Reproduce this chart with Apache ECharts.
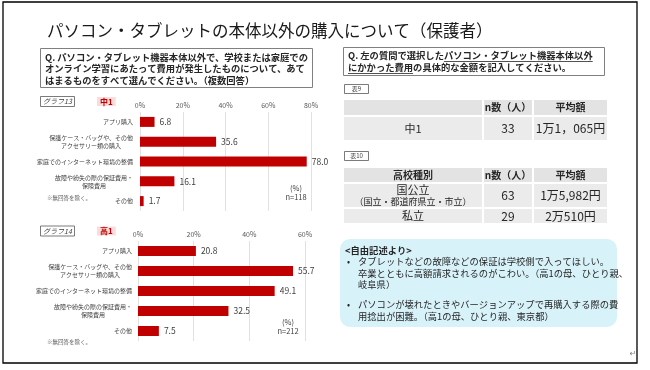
<!DOCTYPE html>
<html><head><meta charset="utf-8">
<script src="https://cdn.jsdelivr.net/npm/echarts@6/dist/echarts.min.js"></script>
<style>html,body{margin:0;padding:0;background:#fff}#c{width:650px;height:370px}</style>
</head><body><div id="c"></div>
<script>
const F = '"Noto Sans CJK JP", "Noto Sans CJK SC", sans-serif';

// ---- data ----
const categories = ['アプリ購入', '保護ケース・バッグや、その他\nアクセサリー類の購入', '家庭でのインターネット環境の整備', '故障や紛失の際の保証費用・\n保険費用', 'その他'];
const graph13Values = [6.8, 35.6, 78.0, 16.1, 1.7];   // 中1, n=118
const graph14Values = [20.8, 55.7, 49.1, 32.5, 7.5];  // 高1, n=212
const graph13Axis = { min: 0, max: 80, interval: 20 };
const graph14Axis = { min: 0, max: 60, interval: 20 };
const table9Header = ['', 'n数（人）', '平均額'];
const table9Rows = [['中1', '33', '1万1，065円']];
const table10Header = ['高校種別', 'n数（人）', '平均額'];
const table10Rows = [['国公立|（国立・都道府県立・市立）', '63', '1万5,982円'], ['私立', '29', '2万510円']];
const leftQuestion = ['Q. パソコン・タブレット機器本体以外で、学校または家庭での', 'オンライン学習にあたって費用が発生したものについて、あて', 'はまるものをすべて選んでください。（複数回答）'];
const rightQPrefix = 'Q. 左の質問で選択した';
const rightQUnder1 = 'パソコン・タブレット機器本体以外';
const rightQUnder2 = 'にかかった費用';
const rightQRest2 = 'の具体的な金額を記入してください。';
const comments = [
  ['タブレットなどの故障などの保証は学校側で入ってほしい。', '卒業とともに高額請求されるのがこわい。（高1の母、ひとり親、', '岐阜県）'],
  ['パソコンが壊れたときやバージョンアップで再購入する際の費', '用捻出が困難。（高1の母、ひとり親、東京都）']
];

// ---- helpers ----
const els = [];
function txt(x, y, text, o) {
  els.push({ type: 'text', x: x, y: y, z: 10, silent: true,
    style: Object.assign({ text: text, fontFamily: F, fontSize: 9.3, fill: '#262626', align: 'left', verticalAlign: 'middle' }, o || {}) });
}
function rect(x, y, w, h, style, r) {
  els.push({ type: 'rect', z: 2, silent: true, shape: { x: x, y: y, width: w, height: h, r: r || 0 }, style: Object.assign({ fill: 'none' }, style) });
}
function hline(x1, x2, y, color) {
  els.push({ type: 'line', z: 10, silent: true, shape: { x1: x1, y1: y, x2: x2, y2: y }, style: { stroke: color || '#262626', lineWidth: 0.8 } });
}
const mctx = document.createElement('canvas').getContext('2d');
function measure(text, font) { mctx.font = font; return mctx.measureText(text).width; }

// frame & title
rect(3, 2, 634, 361, { stroke: '#000', lineWidth: 1.3 });
txt(47, 31, 'パソコン・タブレットの本体以外の購入について（保護者）', { fontSize: 16.5, fill: '#1a1a1a' });

// left question box
rect(40.5, 48.5, 272, 39, { stroke: '#808080', lineWidth: 1 });
leftQuestion.forEach((l, i) => txt(45, 57 + i * 11.8, l, { fontWeight: 'bold' }));

// right question box
rect(343.5, 47.5, 261, 28, { stroke: '#808080', lineWidth: 1 });
txt(348, 55.5, rightQPrefix + rightQUnder1, { fontWeight: 'bold' });
txt(348, 67.5, rightQUnder2 + rightQRest2, { fontWeight: 'bold' });
const bf = 'bold 9.3px ' + F;
const wp = measure(rightQPrefix, bf), wu1 = measure(rightQUnder1, bf), wu2 = measure(rightQUnder2, bf);
hline(348 + wp, 348 + wp + wu1, 61.5);
hline(348, 348 + wu2, 73.5);

// graph labels
function graphTag(y, name, grade) {
  rect(40.5, y - 5, 34, 10, { stroke: '#595959', lineWidth: 0.8 });
  txt(57.5, y, name, { fontSize: 7, align: 'center', fontStyle: 'italic', fill: '#404040' });
  txt(97, y, grade, { fontSize: 8, fontWeight: 'bold', fill: '#c00000', backgroundColor: '#f9dcdc', padding: [1, 3, 0, 3] });
}
graphTag(101.5, 'グラフ13', '中1');
graphTag(231, 'グラフ14', '高1');
txt(296, 188, '(%)', { fontSize: 7.5, align: 'center', fill: '#404040' });
txt(296, 197, 'n=118', { fontSize: 7.5, align: 'center', fill: '#404040' });
txt(288, 322, '(%)', { fontSize: 7.5, align: 'center', fill: '#404040' });
txt(288, 331, 'n=212', { fontSize: 7.5, align: 'center', fill: '#404040' });
txt(47, 198, '※無回答を除く。', { fontSize: 5.5, fill: '#595959' });
txt(47, 342, '※無回答を除く。', { fontSize: 5.5, fill: '#595959' });

// tables
function tableTag(y, name) {
  rect(344.5, y - 4.5, 24, 9, { stroke: '#595959', lineWidth: 0.8 });
  txt(356.5, y, name, { fontSize: 6, align: 'center', fill: '#404040' });
}
tableTag(89, '表9');
tableTag(156, '表10');
const cols = [[344, 482], [484, 532], [534, 607]];
function drawTable(header, rows, rowSpans) {
  const all = [header].concat(rows);
  all.forEach((row, ri) => {
    const [y0, y1] = rowSpans[ri];
    row.forEach((cell, ci) => {
      const [x0, x1] = cols[ci];
      rect(x0, y0, x1 - x0, y1 - y0, { fill: ri === 0 ? '#e3e3e3' : '#ebebeb' });
      if (!cell) return;
      const cx = (x0 + x1) / 2, cy = (y0 + y1) / 2;
      if (ri === 0) {
        txt(cx, cy, cell, { fontSize: 10, fontWeight: 'bold', align: 'center' });
      } else if (cell.indexOf('|') >= 0) {
        const p = cell.split('|');
        txt(cx, cy, '{a|' + p[0] + '}\n{b|' + p[1] + '}', { align: 'center',
          rich: { a: { fontSize: 11, lineHeight: 12, fontFamily: F, fill: '#262626' }, b: { fontSize: 9, lineHeight: 12, fontFamily: F, fill: '#262626' } } });
      } else {
        txt(cx, cy, cell, { fontSize: ci === 0 ? 11 : 12, align: 'center' });
      }
    });
  });
}
drawTable(table9Header, table9Rows, [[100, 115], [117, 140]]);
drawTable(table10Header, table10Rows, [[168, 182], [184, 207], [209, 223]]);

// comments box
rect(340, 239, 277, 88, { fill: '#d8f2f9' }, 10);
txt(345, 250, '<自由記述より>', { fontWeight: 'bold' });
let cy = 261.5;
comments.forEach((c, i) => {
  if (i > 0) cy += 8.5;
  txt(347, cy, '•', { fontSize: 9 });
  c.forEach(l => { txt(358, cy, l); cy += 11.5; });
});
txt(633, 354, '↵', { fontSize: 8, fill: '#808080', align: 'center', fontFamily: 'DejaVu Sans' });

// ---- chart ----
function valueAxis(idx, ax) {
  return { gridIndex: idx, type: 'value', position: 'top', min: ax.min, max: ax.max, interval: ax.interval,
    axisLabel: { formatter: '{value}%', fontSize: 7, color: '#595959', margin: 3, fontFamily: F },
    splitLine: { lineStyle: { color: '#d9d9d9', width: 0.8 } }, axisLine: { show: false }, axisTick: { show: false } };
}
function catAxis(idx, margin) {
  return { gridIndex: idx, type: 'category', inverse: true, data: categories,
    axisLine: { show: false }, axisTick: { show: false },
    axisLabel: { fontSize: 6, color: '#404040', margin: margin, lineHeight: 8, fontFamily: F, interval: 0,
      formatter: v => { const ls = v.split('\n'); return ls.length > 1 ? ls.map(l => '{c|' + l + '}').join('\n') : v; },
      rich: { c: { align: 'center', fontSize: 6, lineHeight: 8, color: '#404040', fontFamily: F } } } };
}
function barSeries(idx, data) {
  return { type: 'bar', xAxisIndex: idx, yAxisIndex: idx, data: data, barWidth: 10,
    itemStyle: { color: '#c00000' },
    label: { show: true, position: 'right', distance: 5, fontSize: 8.5, color: '#404040', fontFamily: F,
      formatter: p => p.value.toFixed(1) } };
}
const chart = echarts.init(document.getElementById('c'), null, { renderer: 'canvas' });
chart.setOption({
  animation: false,
  textStyle: { fontFamily: F },
  grid: [
    { left: 140, top: 112, width: 171, height: 99 },
    { left: 138, top: 241, width: 167, height: 100 }
  ],
  xAxis: [valueAxis(0, graph13Axis), valueAxis(1, graph14Axis)],
  yAxis: [catAxis(0, 7), catAxis(1, 6)],
  series: [barSeries(0, graph13Values), barSeries(1, graph14Values)],
  graphic: els
});
</script></body></html>
